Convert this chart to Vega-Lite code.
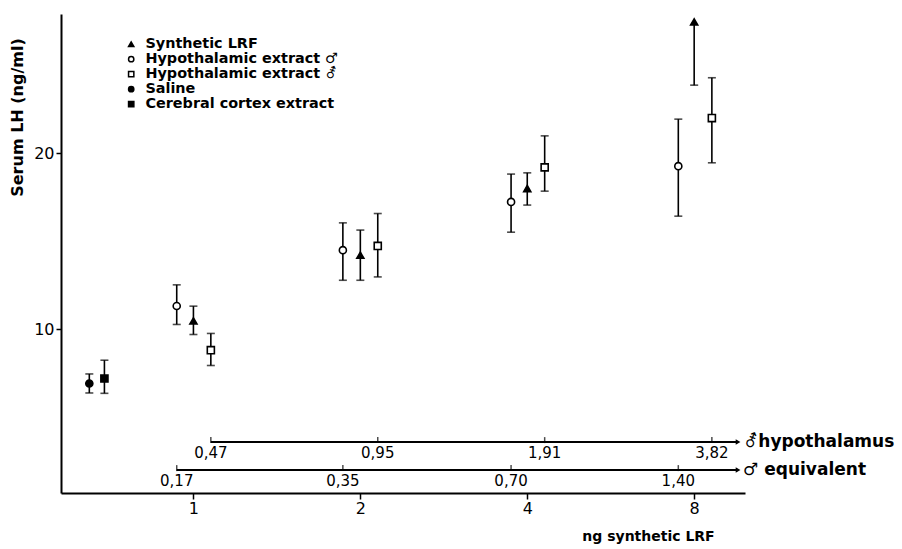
{
  "$schema": "https://vega.github.io/schema/vega-lite/v6.json",
  "width": 684,
  "height": 479,
  "autosize": {"type": "none"},
  "padding": {"left": 61, "top": 14, "right": 157, "bottom": 56},
  "background": "white",
  "config": {
    "view": {"stroke": null},
    "font": "DejaVu Sans",
    "axis": {"grid": false, "domainColor": "black", "domainWidth": 2, "tickColor": "black", "tickWidth": 1.5, "labelColor": "black", "titleColor": "black", "labelFont": "DejaVu Sans", "titleFont": "DejaVu Sans"}
  },
  "datasets": {
    "points": [
      {"group": "Saline", "x": 0.649, "y": 6.92, "lo": 6.38, "hi": 7.46, "hicap": 7.46},
      {"group": "Cerebral cortex extract", "x": 0.691, "y": 7.2, "lo": 6.36, "hi": 8.24, "hicap": 8.24},
      {"group": "Hypothalamic extract ♂", "x": 0.933, "y": 11.32, "lo": 10.27, "hi": 12.52, "hicap": 12.52},
      {"group": "Hypothalamic extract ♂", "x": 1.86, "y": 14.49, "lo": 12.78, "hi": 16.04, "hicap": 16.04},
      {"group": "Hypothalamic extract ♂", "x": 3.74, "y": 17.23, "lo": 15.51, "hi": 18.81, "hicap": 18.81},
      {"group": "Hypothalamic extract ♂", "x": 7.49, "y": 19.26, "lo": 16.42, "hi": 21.93, "hicap": 21.93},
      {"group": "Synthetic LRF", "x": 1, "y": 10.47, "lo": 9.7, "hi": 11.31, "hicap": 11.31},
      {"group": "Synthetic LRF", "x": 2, "y": 14.2, "lo": 12.78, "hi": 15.63, "hicap": 15.63},
      {"group": "Synthetic LRF", "x": 4, "y": 17.99, "lo": 17.05, "hi": 18.88, "hicap": 18.88},
      {"group": "Synthetic LRF", "x": 8, "y": 27.45, "lo": 23.86, "hi": 27.45, "hicap": null},
      {"group": "Hypothalamic extract ⚦", "x": 1.075, "y": 8.81, "lo": 7.94, "hi": 9.76, "hicap": 9.76},
      {"group": "Hypothalamic extract ⚦", "x": 2.15, "y": 14.73, "lo": 12.97, "hi": 16.57, "hicap": 16.57},
      {"group": "Hypothalamic extract ⚦", "x": 4.3, "y": 19.19, "lo": 17.84, "hi": 20.98, "hicap": 20.98},
      {"group": "Hypothalamic extract ⚦", "x": 8.61, "y": 21.99, "lo": 19.45, "hi": 24.28, "hicap": 24.28}
    ],
    "subticks": [
      {"axis": "eq", "x": 0.933, "label": "0,17"},
      {"axis": "eq", "x": 1.86, "label": "0,35"},
      {"axis": "eq", "x": 3.74, "label": "0,70"},
      {"axis": "eq", "x": 7.49, "label": "1,40"},
      {"axis": "hy", "x": 1.075, "label": "0,47"},
      {"axis": "hy", "x": 2.15, "label": "0,95"},
      {"axis": "hy", "x": 4.3, "label": "1,91"},
      {"axis": "hy", "x": 8.61, "label": "3,82"}
    ],
    "sublines": [
      {"axis": "eq", "x": 0.933, "x2": 9.6, "name": "♂ equivalent"},
      {"axis": "hy", "x": 1.075, "x2": 9.6, "name": "⚦hypothalamus"}
    ]
  },
  "layer": [
    {
      "data": {"name": "points"},
      "mark": {"type": "rule", "color": "black", "strokeWidth": 1.6},
      "encoding": {
        "x": {"field": "x", "type": "quantitative", "scale": {"type": "log", "domain": [0.577, 9.88], "nice": false}, "title": "ng synthetic LRF",
          "axis": {"values": [1, 2, 4, 8], "format": "d", "tickSize": 6, "labelFontSize": 16, "labelPadding": 1, "titleFontSize": 14, "titleFontWeight": "bold", "titleX": 587, "titleY": 36, "titleAnchor": null, "titleAlign": "center", "titleBaseline": "top"}},
        "y": {"field": "lo", "type": "quantitative", "scale": {"domain": [0.7, 27.9], "zero": false, "nice": false}, "title": "Serum LH (ng/ml)",
          "axis": {"values": [10, 20], "tickSize": 5, "labelFontSize": 16, "labelPadding": 2, "titleFontSize": 16, "titleFontWeight": "bold", "titleX": -44, "titleY": 103, "titleAnchor": null, "titleAngle": -90, "titleAlign": "center", "titleBaseline": "middle"}},
        "y2": {"field": "hi"}
      }
    },
    {
      "data": {"name": "points"},
      "mark": {"type": "tick", "orient": "horizontal", "color": "black", "size": 8, "thickness": 1.6},
      "encoding": {
        "x": {"field": "x", "type": "quantitative", "title": "ng synthetic LRF"},
        "y": {"field": "lo", "type": "quantitative", "title": "Serum LH (ng/ml)"}
      }
    },
    {
      "data": {"name": "points"},
      "mark": {"type": "tick", "orient": "horizontal", "color": "black", "size": 8, "thickness": 1.6},
      "encoding": {
        "x": {"field": "x", "type": "quantitative", "title": "ng synthetic LRF"},
        "y": {"field": "hicap", "type": "quantitative", "title": "Serum LH (ng/ml)"}
      }
    },
    {
      "data": {"name": "points"},
      "mark": {"type": "point", "stroke": "black", "strokeWidth": 1.6, "size": 50, "opacity": 1},
      "encoding": {
        "x": {"field": "x", "type": "quantitative", "title": "ng synthetic LRF"},
        "y": {"field": "y", "type": "quantitative", "title": "Serum LH (ng/ml)"},
        "shape": {"field": "group", "type": "nominal",
          "scale": {"domain": ["Synthetic LRF", "Hypothalamic extract ♂", "Hypothalamic extract ⚦", "Saline", "Cerebral cortex extract"], "range": ["triangle-up", "circle", "square", "circle", "square"]},
          "legend": {"title": null, "orient": "none", "legendX": 63, "legendY": 23, "labelFontSize": 14.4, "labelFontWeight": "bold", "labelFont": "DejaVu Sans", "labelColor": "black", "labelLimit": 400, "symbolSize": 28, "rowPadding": 0, "labelOffset": 7,
            "encode": {"symbols": {"update": {"stroke": {"value": "black"}, "strokeWidth": {"value": 1.4}}}}}},
        "fill": {"field": "group", "type": "nominal",
          "scale": {"domain": ["Synthetic LRF", "Hypothalamic extract ♂", "Hypothalamic extract ⚦", "Saline", "Cerebral cortex extract"], "range": ["black", "white", "white", "black", "black"]},
          "legend": {"title": null, "orient": "none", "legendX": 63, "legendY": 23, "labelFontSize": 14.4, "labelFontWeight": "bold", "labelFont": "DejaVu Sans", "labelColor": "black", "labelLimit": 400, "symbolSize": 28, "rowPadding": 0, "labelOffset": 7,
            "encode": {"symbols": {"update": {"stroke": {"value": "black"}, "strokeWidth": {"value": 1.4}}}}}}
      }
    },
    {
      "mark": {"type": "point", "shape": "triangle-right", "filled": true, "color": "black", "size": 70, "opacity": 1, "xOffset": -4},
      "encoding": {"x": {"datum": 9.88}, "y": {"datum": 0.7}}
    },
    {
      "mark": {"type": "point", "shape": "triangle-up", "filled": true, "color": "black", "size": 70, "opacity": 1, "yOffset": 4},
      "encoding": {"x": {"datum": 0.577}, "y": {"datum": 27.9}}
    },
    {
      "data": {"name": "sublines"},
      "transform": [{"filter": "datum.axis == 'eq'"}],
      "mark": {"type": "rule", "color": "black", "strokeWidth": 2},
      "encoding": {"x": {"field": "x", "type": "quantitative", "title": "ng synthetic LRF"}, "x2": {"field": "x2"}, "y": {"datum": 2.0}}
    },
    {
      "data": {"name": "sublines"},
      "transform": [{"filter": "datum.axis == 'hy'"}],
      "mark": {"type": "rule", "color": "black", "strokeWidth": 2},
      "encoding": {"x": {"field": "x", "type": "quantitative", "title": "ng synthetic LRF"}, "x2": {"field": "x2"}, "y": {"datum": 3.59}}
    },
    {
      "data": {"name": "sublines"},
      "transform": [{"filter": "datum.axis == 'eq'"}],
      "mark": {"type": "point", "shape": "triangle-right", "filled": true, "color": "black", "size": 30, "opacity": 1},
      "encoding": {"x": {"field": "x2", "type": "quantitative", "title": "ng synthetic LRF"}, "y": {"datum": 2.0}}
    },
    {
      "data": {"name": "sublines"},
      "transform": [{"filter": "datum.axis == 'hy'"}],
      "mark": {"type": "point", "shape": "triangle-right", "filled": true, "color": "black", "size": 30, "opacity": 1},
      "encoding": {"x": {"field": "x2", "type": "quantitative", "title": "ng synthetic LRF"}, "y": {"datum": 3.59}}
    },
    {
      "data": {"name": "sublines"},
      "transform": [{"filter": "datum.axis == 'eq'"}],
      "mark": {"type": "text", "align": "left", "baseline": "middle", "dx": 5, "fontSize": 17, "fontWeight": "bold", "font": "DejaVu Sans", "color": "black"},
      "encoding": {"x": {"field": "x2", "type": "quantitative", "title": "ng synthetic LRF"}, "y": {"datum": 2.0}, "text": {"field": "name"}}
    },
    {
      "data": {"name": "sublines"},
      "transform": [{"filter": "datum.axis == 'hy'"}],
      "mark": {"type": "text", "align": "left", "baseline": "middle", "dx": 6, "fontSize": 17, "fontWeight": "bold", "font": "DejaVu Sans", "color": "black"},
      "encoding": {"x": {"field": "x2", "type": "quantitative", "title": "ng synthetic LRF"}, "y": {"datum": 3.59}, "text": {"field": "name"}}
    },
    {
      "data": {"name": "subticks"},
      "transform": [{"filter": "datum.axis == 'eq'"}],
      "mark": {"type": "tick", "orient": "vertical", "color": "black", "size": 6, "thickness": 1.5, "yOffset": -2},
      "encoding": {"x": {"field": "x", "type": "quantitative", "title": "ng synthetic LRF"}, "y": {"datum": 2.0}}
    },
    {
      "data": {"name": "subticks"},
      "transform": [{"filter": "datum.axis == 'hy'"}],
      "mark": {"type": "tick", "orient": "vertical", "color": "black", "size": 6, "thickness": 1.5, "yOffset": -2},
      "encoding": {"x": {"field": "x", "type": "quantitative", "title": "ng synthetic LRF"}, "y": {"datum": 3.59}}
    },
    {
      "data": {"name": "subticks"},
      "transform": [{"filter": "datum.axis == 'eq'"}],
      "mark": {"type": "text", "align": "center", "baseline": "top", "dy": 4, "fontSize": 15, "font": "DejaVu Sans", "color": "black"},
      "encoding": {"x": {"field": "x", "type": "quantitative", "title": "ng synthetic LRF"}, "y": {"datum": 2.0}, "text": {"field": "label"}}
    },
    {
      "data": {"name": "subticks"},
      "transform": [{"filter": "datum.axis == 'hy'"}],
      "mark": {"type": "text", "align": "center", "baseline": "top", "dy": 4, "fontSize": 15, "font": "DejaVu Sans", "color": "black"},
      "encoding": {"x": {"field": "x", "type": "quantitative", "title": "ng synthetic LRF"}, "y": {"datum": 3.59}, "text": {"field": "label"}}
    }
  ]
}
